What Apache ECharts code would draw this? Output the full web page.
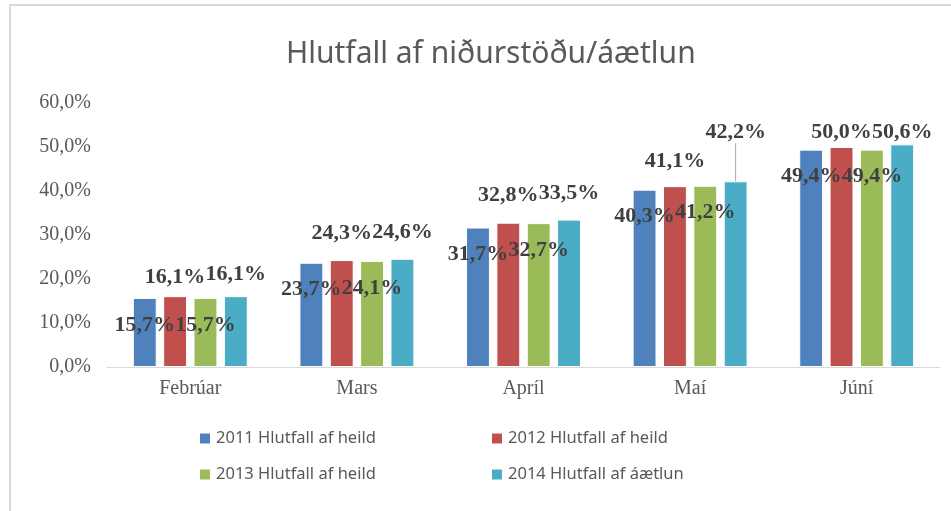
<!DOCTYPE html>
<html>
<head>
<meta charset="utf-8">
<script src="https://cdn.jsdelivr.net/npm/echarts@6/dist/echarts.min.js"></script>
<style>
  html, body { margin: 0; padding: 0; background: #fff; }
  #chart { width: 951px; height: 511px; }
</style>
</head>
<body>
<div id="chart"></div>
<script>
// gögn lesin af myndinni
var months = ['Febrúar', 'Mars', 'Apríl', 'Maí', 'Júní'];
var s2011 = [15.7, 23.7, 31.7, 40.3, 49.4];
var s2012 = [16.1, 24.3, 32.8, 41.1, 50.0];
var s2013 = [15.7, 24.1, 32.7, 41.2, 49.4];
var s2014 = [16.1, 24.6, 33.5, 42.2, 50.6];
var names = ['2011 Hlutfall af heild', '2012 Hlutfall af heild', '2013 Hlutfall af heild', '2014 Hlutfall af áætlun'];
var colors = ['#4F81BD', '#C0504D', '#9BBB59', '#4BACC6'];

// handfærð merki eins og í Excel (lóðrétt tilfærsla í px)
var shift2012 = [4, -4, -4, -2, 8];
var shift2014 = [1, -3, -3, -26, 11];

function pct(v) {
  return v.toFixed(1).replace('.', ',') + '%';
}

var labelFont = {
  fontFamily: 'Liberation Serif',
  fontWeight: 'bold',
  fontSize: 22,
  color: '#404040'
};

// 2011 og 2013 merki inni í súlu, 2012 og 2014 fyrir ofan
function mkSeries(i, data, inside, shift) {
  var s = {
    name: names[i],
    type: 'bar',
    data: data.map(function (v, k) {
      if (shift && shift[k] < -20) {
        return { value: v, labelLine: { show: true } };
      }
      return v;
    }),
    barGap: '27%',
    barCategoryGap: '31%',
    itemStyle: { color: colors[i], borderColor: '#fff', borderWidth: 1 },
    label: Object.assign({
      show: true,
      position: inside ? 'insideTop' : 'top',
      distance: inside ? 16 : 12,
      formatter: function (p) { return pct(p.value) }
    }, labelFont),
    labelLine: { show: false, lineStyle: { color: '#a6a6a6', width: 1 } },
    animation: false
  };
  if (shift) {
    s.labelLayout = function (p) {
      return { dy: shift[p.dataIndex] };
    };
  }
  return s;
}

var series = [
  mkSeries(0, s2011, true),
  mkSeries(1, s2012, false, shift2012),
  mkSeries(2, s2013, true),
  mkSeries(3, s2014, false, shift2014)
];

var legendText = { fontFamily: 'Noto Sans', fontSize: 16.5, color: '#595959' };

var chart = echarts.init(document.getElementById('chart'));
chart.setOption({
  animation: false,
  title: {
    text: 'Hlutfall af niðurstöðu/áætlun',
    left: 281,
    top: 34,
    textStyle: { fontFamily: 'Noto Sans', fontWeight: 'normal', fontSize: 30, color: '#595959' }
  },
  graphic: [{
    type: 'rect',
    shape: { x: 10, y: 5, width: 960, height: 520 },
    style: { fill: 'none', stroke: '#d9d9d9', lineWidth: 2 },
    silent: true
  }],
  legend: [{
    orient: 'vertical',
    left: 198,
    top: 430,
    padding: 0,
    itemWidth: 12,
    itemHeight: 12,
    itemGap: 19,
    icon: 'rect',
    data: [names[0], names[2]],
    textStyle: legendText
  }, {
    orient: 'vertical',
    left: 490,
    top: 430,
    padding: 0,
    itemWidth: 12,
    itemHeight: 12,
    itemGap: 19,
    icon: 'rect',
    data: [names[1], names[3]],
    textStyle: legendText
  }],
  grid: { left: 107, right: 11, top: 103, bottom: 144 },
  xAxis: {
    type: 'category',
    data: months,
    axisTick: { show: false },
    axisLine: { lineStyle: { color: '#d9d9d9', width: 1 } },
    axisLabel: { margin: 12, fontFamily: 'Liberation Serif', fontSize: 20, color: '#595959' }
  },
  yAxis: {
    type: 'value',
    min: 0,
    max: 60,
    interval: 10,
    splitLine: { show: false },
    axisLine: { show: false },
    axisTick: { show: false },
    axisLabel: {
      margin: 16,
      fontFamily: 'Liberation Serif',
      fontSize: 20,
      color: '#595959',
      formatter: function (v) { return pct(v) }
    }
  },
  series: series
});
</script>
</body>
</html>
